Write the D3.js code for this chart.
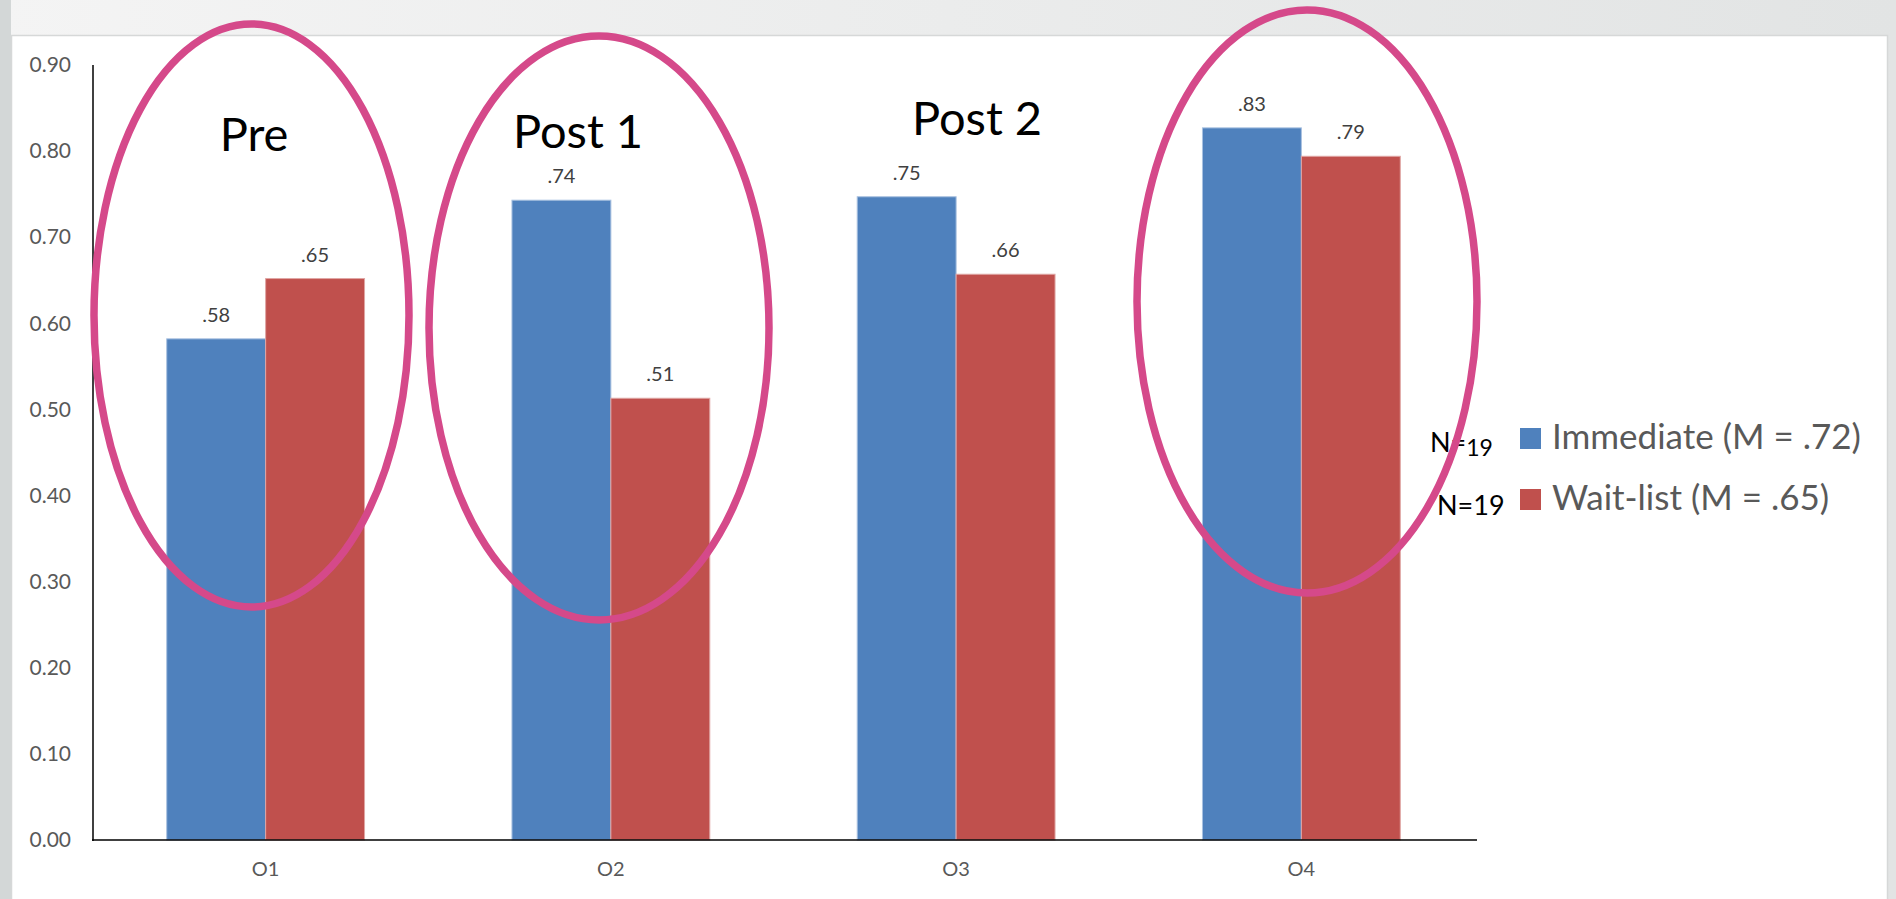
<!DOCTYPE html>
<html>
<head>
<meta charset="utf-8">
<script src="https://cdn.jsdelivr.net/npm/d3@7"></script>
<style>
  html, body { margin: 0; padding: 0; background: #eceeee; }
  svg { display: block; }
</style>
</head>
<body>
<svg id="chart" width="1896" height="899"></svg>
<script>
// ---- data ----
const categories = ["O1", "O2", "O3", "O4"];
const seriesNames = ["Immediate", "Wait-list"];
const immediate = [0.582, 0.743, 0.747, 0.827];
const waitList = [0.652, 0.513, 0.657, 0.794];
const yTicks = [0, 0.1, 0.2, 0.3, 0.4, 0.5, 0.6, 0.7, 0.8, 0.9];
const legendLabels = ["Immediate (M = .72)", "Wait-list (M = .65)"];
const nLabels = ["19", "19"];
const phaseLabels = ["Pre", "Post 1", "Post 2"];

const colors = ["#4f81bd", "#c0504d"];
const edge = ["#a9c1e0", "#e0a6a4"];
const FONT = "Lato, 'Open Sans', sans-serif";

const svg = d3.select("#chart");

// background
const defs = svg.append("defs");
const g1 = defs.append("linearGradient").attr("id", "bg").attr("x1", 0).attr("x2", 1).attr("y1", 0).attr("y2", 0);
g1.append("stop").attr("offset", 0).attr("stop-color", "#f4f4f4");
g1.append("stop").attr("offset", 1).attr("stop-color", "#e2e4e4");
svg.append("rect").attr("width", 1896).attr("height", 899).attr("fill", "url(#bg)");
svg.append("rect").attr("x", 0).attr("y", 0).attr("width", 11).attr("height", 899).attr("fill", "#d3d7d7");
// panel
svg.append("rect").attr("x", 11.5).attr("y", 35.5).attr("width", 1876).attr("height", 880)
  .attr("fill", "#ffffff").attr("stroke", "#d6d8d8").attr("stroke-width", 1.5);

// scales
const y = d3.scaleLinear().domain([0, 0.9]).range([840, 65]);
const x0 = d3.scaleBand().domain(categories).range([93, 1474]).padding(0);
const groupW = x0.bandwidth() * 0.573;
const x1 = d3.scaleBand().domain(seriesNames)
  .range([(x0.bandwidth() - groupW) / 2, (x0.bandwidth() + groupW) / 2]).padding(0);

// y axis labels
const yAxis = d3.axisLeft(y).tickValues(yTicks).tickFormat(d3.format(".2f")).tickSize(0).tickPadding(22);
const ya = svg.append("g").attr("transform", "translate(93,0)").call(yAxis);
ya.select(".domain").remove();
ya.selectAll("text").attr("font-family", FONT).attr("font-size", 21).attr("fill", "#595959");

// x axis labels
const xAxis = d3.axisBottom(x0).tickSize(0).tickPadding(22);
const xa = svg.append("g").attr("transform", "translate(0,840)").call(xAxis);
xa.select(".domain").remove();
xa.selectAll("text").attr("font-family", FONT).attr("font-size", 20).attr("fill", "#595959");

// bars
const rows = categories.map((c, i) => ({ cat: c, vals: [immediate[i], waitList[i]] }));
const fmt = v => d3.format(".2f")(v).replace(/^0/, "");
const grp = svg.append("g").selectAll("g").data(rows).join("g")
  .attr("transform", d => `translate(${x0(d.cat)},0)`);
grp.selectAll("rect").data(d => d.vals.map((v, k) => ({ v, k }))).join("rect")
  .attr("x", d => x1(seriesNames[d.k]))
  .attr("y", d => y(d.v))
  .attr("width", x1.bandwidth())
  .attr("height", d => y(0) - y(d.v))
  .attr("fill", d => colors[d.k])
  .attr("stroke", d => edge[d.k]).attr("stroke-width", 1);
grp.selectAll("text").data(d => d.vals.map((v, k) => ({ v, k }))).join("text")
  .attr("x", d => x1(seriesNames[d.k]) + x1.bandwidth() / 2)
  .attr("y", d => y(d.v) - 17)
  .attr("text-anchor", "middle")
  .attr("font-family", FONT).attr("font-size", 20).attr("fill", "#404040")
  .text(d => fmt(d.v));

// axis lines
svg.append("line").attr("x1", 93).attr("x2", 93).attr("y1", y(0.9)).attr("y2", y(0) + 1)
  .attr("stroke", "#000").attr("stroke-width", 1.5);
svg.append("line").attr("x1", 92).attr("x2", x0.range()[1] + 3).attr("y1", y(0)).attr("y2", y(0))
  .attr("stroke", "#000").attr("stroke-width", 1.5);

// legend
const leg = svg.append("g");
legendLabels.forEach((t, i) => {
  const ly = 428 + i * 61;
  leg.append("rect").attr("x", 1520).attr("y", ly).attr("width", 21).attr("height", 21).attr("fill", colors[i]);
  leg.append("text").attr("x", 1552).attr("y", ly + 21).attr("font-family", FONT).attr("font-size", 35)
    .attr("fill", "#595959").text(t);
});
// N labels
const n1 = svg.append("text").attr("x", 1430).attr("y", 452).attr("font-family", FONT).attr("font-size", 27).attr("fill", "#000");
n1.append("tspan").text("N=");
n1.append("tspan").attr("font-size", 23).attr("dy", 4).text(nLabels[0]);
svg.append("text").attr("x", 1437).attr("y", 515).attr("font-family", FONT).attr("font-size", 27).attr("fill", "#000").text("N=" + nLabels[1]);

// phase labels
const phasePos = [[254, 151], [578, 148], [977, 135]];
phaseLabels.forEach((t, i) => {
  svg.append("text").attr("x", phasePos[i][0]).attr("y", phasePos[i][1]).attr("text-anchor", "middle")
    .attr("font-family", FONT).attr("font-size", 47).attr("fill", "#000").text(t);
});

// highlight ellipses
const ellipses = [[251.5, 315.5, 157.5, 291.5], [599, 328, 170, 292], [1307, 301.5, 170, 291.5]];
svg.append("g").selectAll("ellipse").data(ellipses).join("ellipse")
  .attr("cx", d => d[0]).attr("cy", d => d[1]).attr("rx", d => d[2]).attr("ry", d => d[3])
  .attr("fill", "none").attr("stroke", "#d5498a").attr("stroke-width", 7.5);
</script>
</body>
</html>
